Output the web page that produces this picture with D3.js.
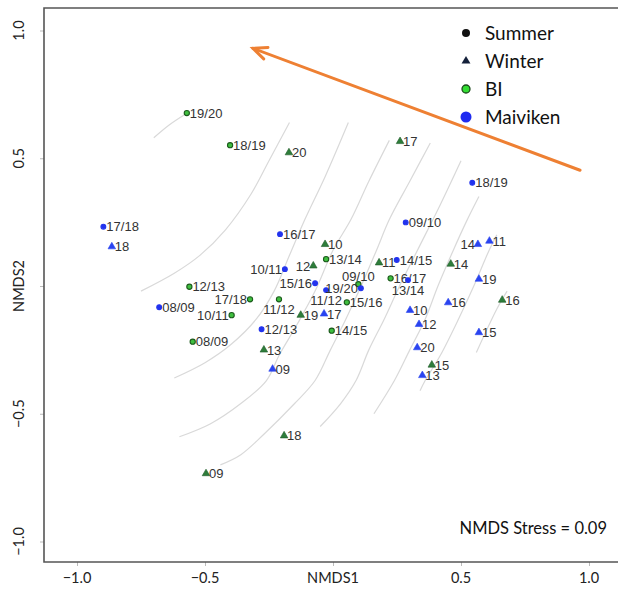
<!DOCTYPE html>
<html>
<head>
<meta charset="utf-8">
<script src="https://cdn.jsdelivr.net/npm/d3@7"></script>
<style>
  body { margin: 0; background: #fff; }
  svg { display: block; }
</style>
</head>
<body>
<script>

    // summer seasons (circles) and winter years (triangles)
    var summers = ["08/09", "09/10", "10/11", "11/12", "12/13", "13/14", "14/15", "15/16", "16/17", "17/18", "18/19", "19/20"];
    var winters = ["09", "10", "11", "12", "13", "14", "15", "16", "17", "18", "19", "20"];

    var biSummerX = [-0.548, 0.099, -0.396, -0.211, -0.561, -0.027, -0.005, 0.054, 0.225, -0.324, -0.402, -0.571];
    var biSummerY = [-0.218, 0.007, -0.114, -0.052, -0.003, 0.105, -0.175, -0.064, 0.030, -0.052, 0.551, 0.677];
    var maiSummerX = [-0.679, 0.284, -0.188, -0.027, -0.279, 0.293, 0.249, -0.070, -0.207, -0.897, 0.544, 0.109];
    var maiSummerY = [-0.083, 0.249, 0.066, -0.016, -0.169, 0.023, 0.102, 0.011, 0.203, 0.232, 0.404, -0.009];

    var biWinterX = [-0.496, -0.031, 0.180, -0.077, -0.270, 0.460, 0.386, 0.661, 0.262, -0.191, -0.126, -0.172];
    var biWinterY = [-0.734, 0.163, 0.091, 0.079, -0.250, 0.086, -0.309, -0.055, 0.566, -0.586, -0.114, 0.522];
    var maiWinterX = [-0.236, 0.301, 0.611, 0.336, 0.349, 0.566, 0.570, 0.450, -0.035, -0.864, 0.570, 0.329];
    var maiWinterY = [-0.325, -0.095, 0.176, -0.150, -0.350, 0.163, -0.182, -0.065, -0.109, 0.154, 0.027, -0.241];

    // ordisurf contour lines, [NMDS1, NMDS2]
    var contours = [
      [[-0.70, 0.58], [-0.64, 0.63], [-0.58, 0.67]],
      [[-0.17, 0.64], [-0.25, 0.49], [-0.32, 0.36], [-0.42, 0.22], [-0.52, 0.12], [-0.62, 0.05], [-0.75, -0.02]],
      [[0.06, 0.64], [-0.03, 0.43], [-0.11, 0.26], [-0.17, 0.12], [-0.23, -0.02], [-0.30, -0.13], [-0.40, -0.23], [-0.50, -0.30], [-0.62, -0.36]],
      [[0.22, 0.57], [0.14, 0.41], [0.07, 0.26], [0.00, 0.14], [-0.07, -0.02], [-0.14, -0.15], [-0.21, -0.27], [-0.26, -0.37], [-0.36, -0.46], [-0.48, -0.54], [-0.60, -0.59]],
      [[0.38, 0.56], [0.30, 0.41], [0.22, 0.26], [0.17, 0.14], [0.11, 0.00], [0.05, -0.13], [-0.01, -0.25], [-0.07, -0.37], [-0.15, -0.46], [-0.27, -0.58], [-0.36, -0.66], [-0.44, -0.70]],
      [[0.50, 0.49], [0.42, 0.32], [0.33, 0.14], [0.26, 0.00], [0.20, -0.13], [0.14, -0.25], [0.09, -0.37], [0.03, -0.46], [-0.05, -0.55]],
      [[0.57, 0.35], [0.52, 0.25], [0.47, 0.14], [0.41, 0.00], [0.36, -0.13], [0.30, -0.25], [0.24, -0.37], [0.16, -0.50]],
      [[0.64, 0.20], [0.61, 0.14], [0.55, 0.00], [0.49, -0.13], [0.42, -0.27], [0.36, -0.37], [0.34, -0.41]],
      [[0.68, -0.02], [0.64, -0.09], [0.56, -0.26]]
    ];

    // fitted vector (drawn as the orange arrow), tail then head
    var arrowFrom = [0.965, 0.453];
    var arrowTo = [-0.3125, 0.93];

    var xTicks = [-1.0, -0.5, 0.5, 1.0];
    var yTicks = [-1.0, -0.5, 0.5, 1.0];
    var legendNames = ["Summer", "Winter", "BI", "Maiviken"];
    var stressText = "NMDS Stress = 0.09";


    var width = 618, height = 592;
    var frame = {left: 44, top: 8, bottom: 562};

    var svg = d3.select("body")
    .append("svg")
    .attr("width", width)
    .attr("height", height);

    var x = d3.scaleLinear().domain([-1, 1]).range([77, 589]);
    var y = d3.scaleLinear().domain([-1, 1]).range([541.5, 30.5]);

    var axisFont = "Lato, 'Open Sans', sans-serif";
    var labelFont = "'Liberation Sans', Arial, sans-serif";

    // contour lines
    var line = d3.line()
    .x(function(d) { return x(d[0]); })
    .y(function(d) { return y(d[1]); })
    .curve(d3.curveCatmullRom);

    svg.append("g")
    .selectAll("path")
    .data(contours)
    .enter().append("path")
    .attr("d", line)
    .attr("fill", "none")
    .attr("stroke", "#d9d9d9")
    .attr("stroke-width", 1.2);

    // axes (ticks only, R style box)
    var xAxis = d3.axisBottom(x).tickValues([-1, -0.5, 0, 0.5, 1]).tickSize(4).tickFormat("");
    var yAxis = d3.axisLeft(y).tickValues([-1, -0.5, 0, 0.5, 1]).tickSize(4).tickFormat("");

    var gx = svg.append("g").attr("transform", "translate(0," + frame.bottom + ")").call(xAxis);
    var gy = svg.append("g").attr("transform", "translate(" + frame.left + ",0)").call(yAxis);
    gx.select(".domain").remove();
    gy.select(".domain").remove();
    svg.selectAll(".tick line").attr("stroke", "#bbb");

    svg.append("path")
    .attr("d", "M" + width + "," + frame.top + "H" + frame.left + "V" + frame.bottom + "H" + width)
    .attr("fill", "none")
    .attr("stroke", "#555")
    .attr("stroke-width", 1.6);

    svg.append("g").selectAll("text")
    .data(xTicks)
    .enter().append("text")
    .attr("x", function(d) { return x(d); })
    .attr("y", 583)
    .attr("text-anchor", "middle")
    .style("font-family", axisFont)
    .style("font-size", "14.5px")
    .attr("fill", "#222")
    .text(function(d) { return d3.format(".1f")(d); });

    svg.append("text")
    .attr("x", x(0))
    .attr("y", 583)
    .attr("text-anchor", "middle")
    .style("font-family", axisFont)
    .style("font-size", "14.5px")
    .attr("fill", "#222")
    .text("NMDS1");

    svg.append("g").selectAll("text")
    .data(yTicks)
    .enter().append("text")
    .attr("transform", function(d) { return "translate(24," + y(d) + ") rotate(-90)"; })
    .attr("text-anchor", "middle")
    .style("font-family", axisFont)
    .style("font-size", "14.5px")
    .attr("fill", "#222")
    .text(function(d) { return d3.format(".1f")(d); });

    svg.append("text")
    .attr("transform", "translate(24," + y(0) + ") rotate(-90)")
    .attr("text-anchor", "middle")
    .style("font-family", axisFont)
    .style("font-size", "14.5px")
    .attr("fill", "#222")
    .text("NMDS2");

    // label placement: 4 right, 2 left, 1 below, 3 above
    var labelPos = {
      "bs 17/18": 2, "bs 10/11": 2, "bs 11/12": 1, "bs 09/10": 3,
      "ms 10/11": 2, "ms 15/16": 2, "ms 11/12": 1, "ms 13/14": 1, "ms 19/20": 2,
      "bw 12": 2, "mw 14": 2
    };

    function buildSeries(key, names, xs, ys) {
      return names.map(function(n, i) { return {key: key, name: n, x: xs[i], y: ys[i]}; });
    }

    var points = [].concat(
      buildSeries("bs", summers, biSummerX, biSummerY),
      buildSeries("ms", summers, maiSummerX, maiSummerY),
      buildSeries("bw", winters, biWinterX, biWinterY),
      buildSeries("mw", winters, maiWinterX, maiWinterY)
    );

    var style = {
      bs: {shape: "circle", fill: "#3fbf3f", stroke: "#1c5a1c"},
      ms: {shape: "circle", fill: "#2233ee", stroke: "#2233ee"},
      bw: {shape: "triangle", fill: "#2e7d3a", stroke: "#1e5a28"},
      mw: {shape: "triangle", fill: "#2a44f0", stroke: "#2a44f0"}
    };

    var pg = svg.append("g")
    .selectAll("g.pt")
    .data(points)
    .enter().append("g")
    .attr("class", "pt")
    .attr("transform", function(d) { return "translate(" + x(d.x) + "," + y(d.y) + ")"; });

    pg.filter(function(d) { return style[d.key].shape == "circle"; })
    .append("circle")
    .attr("r", function(d) { return d.key == "bs" ? 2.6 : 2.4; })
    .attr("fill", function(d) { return style[d.key].fill; })
    .attr("stroke", function(d) { return style[d.key].stroke; })
    .attr("stroke-width", 1.1);

    pg.filter(function(d) { return style[d.key].shape == "triangle"; })
    .append("path")
    .attr("d", d3.symbol().type(d3.symbolTriangle).size(25))
    .attr("fill", function(d) { return style[d.key].fill; })
    .attr("stroke", function(d) { return style[d.key].stroke; })
    .attr("stroke-width", 0.6);

    pg.append("text")
    .style("font-family", labelFont)
    .style("font-size", "13px")
    .attr("fill", "#333")
    .each(function(d) {
      var p = labelPos[d.key + " " + d.name] || 4;
      var t = d3.select(this);
      if (p == 4) t.attr("x", 3).attr("dy", "0.36em").attr("text-anchor", "start");
      if (p == 2) t.attr("x", -3).attr("dy", "0.36em").attr("text-anchor", "end");
      if (p == 1) t.attr("x", 0).attr("y", 10).attr("dy", "0.36em").attr("text-anchor", "middle");
      if (p == 3) t.attr("x", 0).attr("y", -8).attr("dy", "0.36em").attr("text-anchor", "middle");
    })
    .text(function(d) { return d.name; });

    // arrow
    var ax1 = x(arrowFrom[0]), ay1 = y(arrowFrom[1]), ax2 = x(arrowTo[0]), ay2 = y(arrowTo[1]);
    var ang = Math.atan2(ay1 - ay2, ax1 - ax2), head = 15, spread = 0.42;
    var arrow = svg.append("g")
    .attr("stroke", "#ee8033")
    .attr("stroke-width", 3)
    .attr("stroke-linecap", "round")
    .attr("fill", "none");
    arrow.append("line").attr("x1", ax1).attr("y1", ay1).attr("x2", ax2).attr("y2", ay2);
    arrow.append("path")
    .attr("stroke-linejoin", "miter")
    .attr("d", "M" + (ax2 + head * Math.cos(ang + spread)) + "," + (ay2 + head * Math.sin(ang + spread)) +
      "L" + ax2 + "," + ay2 +
      "L" + (ax2 + head * Math.cos(ang - spread)) + "," + (ay2 + head * Math.sin(ang - spread)));

    // legend
    var legend = svg.append("g")
    .selectAll("g")
    .data(legendNames)
    .enter().append("g")
    .attr("transform", function(d, i) { return "translate(466," + (33 + i * 28) + ")"; });

    legend.each(function(d, i) {
      var g = d3.select(this);
      if (i == 0) g.append("circle").attr("r", 4).attr("fill", "#111");
      if (i == 1) g.append("path").attr("d", d3.symbol().type(d3.symbolTriangle).size(34)).attr("fill", "#14203a");
      if (i == 2) g.append("circle").attr("r", 4).attr("fill", "#33dd33").attr("stroke", "#1c4a1c").attr("stroke-width", 1.3);
      if (i == 3) g.append("circle").attr("r", 5.5).attr("fill", "#1f2bf0");
    });

    legend.append("text")
    .attr("x", 19)
    .attr("dy", "0.35em")
    .style("font-family", axisFont)
    .style("font-size", "19px")
    .attr("fill", "#111")
    .text(function(d) { return d; });

    svg.append("text")
    .attr("x", 607)
    .attr("y", 534)
    .attr("text-anchor", "end")
    .style("font-family", axisFont)
    .style("font-size", "16.5px")
    .attr("fill", "#111")
    .text(stressText);

</script>
</body>
</html>
